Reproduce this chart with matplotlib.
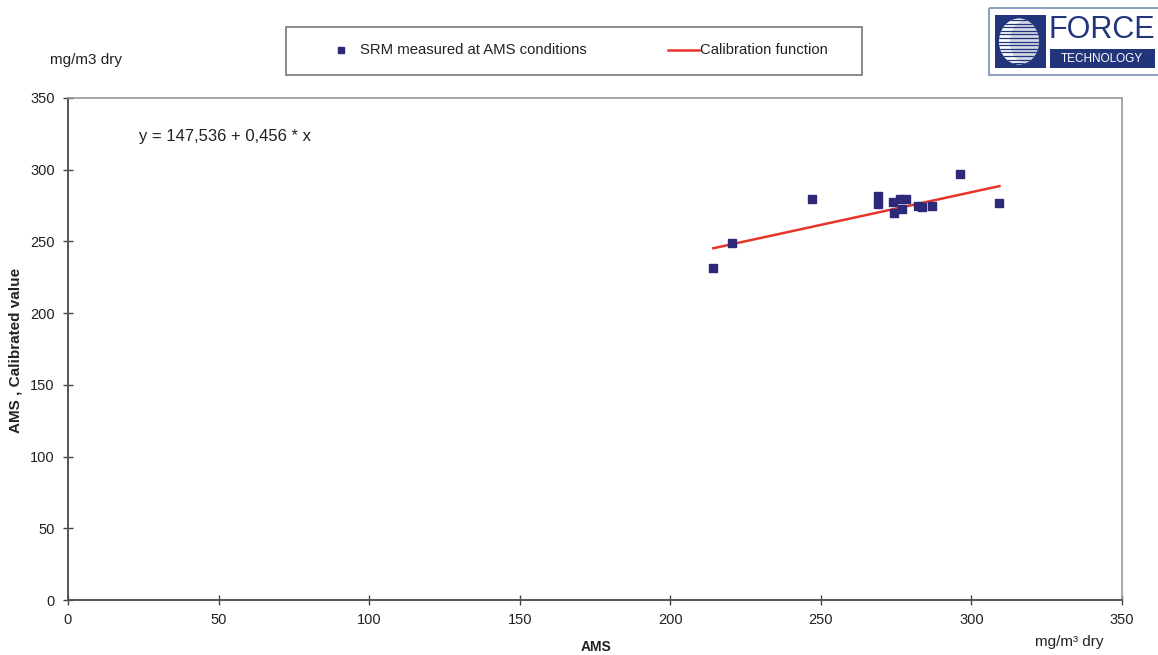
import matplotlib
matplotlib.use("Agg")
import matplotlib.pyplot as plt
import matplotlib.patches as mpatches
from matplotlib.lines import Line2D
import numpy as np

plt.rcParams['font.family'] = ['Liberation Sans', 'DejaVu Sans']

# Data
ams_x = [214.3, 220.4, 247.0, 269.0, 269.0, 274.1, 274.4, 276.3, 276.9, 278.3,
         282.1, 283.7, 287.0, 296.2, 309.3]
calibrated_y = [231.5, 248.8, 279.5, 281.8, 275.8, 277.6, 269.5, 279.5, 272.8, 279.5,
                274.8, 273.7, 274.4, 297.0, 276.9]
intercept = 147.536
slope = 0.456
x_ticks = [0, 50, 100, 150, 200, 250, 300, 350]
y_ticks = [0, 50, 100, 150, 200, 250, 300, 350]

W, H = 1158, 655
fig = plt.figure(figsize=(W / 100, H / 100), dpi=100)

def fx(px):
    return px / W

def fy(py):
    return 1 - py / H

ax = fig.add_axes([fx(68), fy(600), fx(1122) - fx(68), fy(98) - fy(600)])
ax.set_xlim(0, 350)
ax.set_ylim(0, 350)
ax.set_xticks(x_ticks)
ax.set_yticks(y_ticks)
ax.tick_params(direction='inout', length=7, width=1, colors='#444444', labelsize=10.5,
               labelcolor='#222222', pad=6)
for s in ['left', 'bottom']:
    ax.spines[s].set_color('#555555')
    ax.spines[s].set_linewidth(1.4)
for s in ['top', 'right']:
    ax.spines[s].set_color('#9a9a9a')
    ax.spines[s].set_linewidth(1.2)

xs = np.array([min(ams_x), max(ams_x)])
ax.plot(xs, intercept + slope * xs, color='#e8342a', lw=1.8, zorder=2)
ax.plot(ams_x, calibrated_y, linestyle='none', marker='s', markersize=5.8,
        color='#2d2878', zorder=3)

# Texts
fig.text(fx(50), fy(60), 'mg/m3 dry', fontsize=11, color='#222222', va='center', ha='left')
fig.text(fx(139), fy(137), 'y = 147,536 + 0,456 * x', fontsize=12, color='#222222',
         va='center', ha='left')
fig.text(fx(1035), fy(642), 'mg/m³ dry', fontsize=11, color='#222222', va='center', ha='left')
fig.text(fx(596), fy(647), 'AMS', fontsize=10, fontweight='bold', color='#222222',
         va='center', ha='center')
fig.text(fx(16), fy(350), 'AMS , Calibrated value', fontsize=11, fontweight='bold',
         color='#222222', rotation=90, va='center', ha='center')

# Legend box
fig.patches.append(mpatches.Rectangle((fx(286), fy(75)), fx(862) - fx(286), fy(27) - fy(75),
                                      transform=fig.transFigure, fill=False,
                                      edgecolor='#777777', lw=1.2))
fig.lines.append(Line2D([fx(341)], [fy(50)], marker='s', markersize=5, color='#2d2878',
                        linestyle='none', transform=fig.transFigure))
fig.text(fx(360), fy(50), 'SRM measured at AMS conditions', fontsize=10.75, color='#222222',
         va='center', ha='left')
fig.lines.append(Line2D([fx(668), fx(699)], [fy(50), fy(50)], color='#e8342a', lw=1.8,
                        transform=fig.transFigure))
fig.text(fx(700), fy(50), 'Calibration function', fontsize=10.75, color='#222222',
         va='center', ha='left')

# Logo
navy = '#23357a'
logo = fig.add_axes([fx(988), fy(76), fx(1158) - fx(988), fy(7) - fy(76)], zorder=5)
logo.set_xlim(988, 1158)
logo.set_ylim(76, 7)
logo.axis('off')
logo.add_patch(mpatches.Rectangle((989, 8), 175, 67, fill=False, edgecolor='#8fa0c0', lw=1.5))
logo.add_patch(mpatches.Rectangle((995, 15), 51, 53, facecolor=navy, edgecolor='none'))
circle = mpatches.Ellipse((1019, 41.5), 40, 46, facecolor='white', edgecolor='none')
logo.add_patch(circle)
for yy in np.arange(20, 64, 3.6):
    ln, = logo.plot([995, 1046], [yy, yy], color=navy, lw=0.9)
    ln.set_clip_path(circle)
cres = mpatches.Ellipse((1025, 41.5), 30, 42, facecolor='#8090b8', edgecolor='none', alpha=0.35)
logo.add_patch(cres)
cres.set_clip_path(circle)
logo.text(1102, 30, 'FORCE', fontsize=22, color=navy, va='center', ha='center')
logo.add_patch(mpatches.Rectangle((1050, 49), 105, 19, facecolor=navy, edgecolor='none'))
logo.text(1102, 58.5, 'TECHNOLOGY', fontsize=8.5, color='white', va='center', ha='center')

fig.savefig('out.png', dpi=100)
